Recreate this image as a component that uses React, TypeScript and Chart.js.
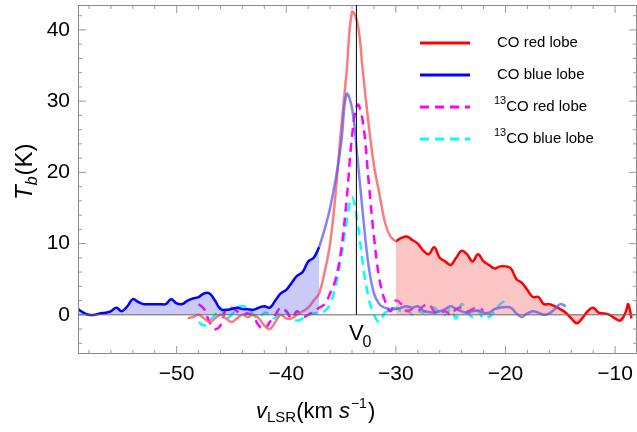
import React, { useEffect, useRef } from "react";
import { Chart, registerables } from "chart.js";
Chart.register(...registerables);

const blueV = [-59,-58.5,-58,-57.5,-57,-56.5,-56,-55.5,-55,-54.5,-54,-53.5,-53,-52.5,-52,-51.5,-51,-50.5,-50,-49.5,-49,-48.5,-48,-47.5,-47,-46.5,-46,-45.5,-45,-44.5,-44,-43.5,-43,-42.5,-42,-41.5,-41,-40.5,-40,-39.5,-39,-38.5,-38,-37.5,-37,-36.5,-36,-35.5,-35,-34.5,-34,-33.5,-33,-32.5,-32,-31.5,-31,-30.5,-30,-29.5,-29,-28.5,-28,-27.5,-27,-26.5,-26,-25.5,-25,-24.5,-24,-23.5,-23,-22.5,-22,-21.5,-21,-20.5,-20,-19.5,-19,-18.5,-18,-17.5,-17,-16.5,-16,-15.5,-15,-14.5];
const blueT = [0.8,0.3,0,0,0.2,0.3,0.5,1.0,0.5,1.2,2.2,1.8,1.5,1.5,1.5,1.5,1.5,2.2,1.6,1.5,2.0,2.3,2.5,3.0,3.0,2.0,0.8,0.7,0.8,1.0,0.8,0.8,0.7,1.0,1.2,1.0,2.0,3.0,3.5,4.5,5.5,6.0,7.5,8.0,9.5,12,15,19,24,31,29,22,14,7,3,1.5,1.0,0.8,0.8,1,1.2,1.0,1.2,0.6,0.4,0.3,0.5,0.8,1.2,0.8,0.5,0.3,0.5,0.6,0.3,0.3,0.8,1.0,1.1,1.0,0.2,-0.3,0.2,0.5,0.3,0,0.2,0.8,1.5,1.2];
const redV = [-49,-48.5,-48,-47.5,-47,-46.5,-46,-45.5,-45,-44.5,-44,-43.5,-43,-42.5,-42,-41.5,-41,-40.5,-40,-39.5,-39,-38.5,-38,-37.5,-37,-36.5,-36,-35.5,-35,-34.5,-34,-33.5,-33,-32.5,-32,-31.5,-31,-30.5,-30,-29.5,-29,-28.5,-28,-27.5,-27,-26.5,-26,-25.5,-25,-24.5,-24,-23.5,-23,-22.5,-22,-21.5,-21,-20.5,-20,-19.5,-19,-18.5,-18,-17.5,-17,-16.5,-16,-15.5,-15,-14.5,-14,-13.5,-13,-12.5,-12,-11.5,-11,-10.5,-10,-9.5,-9,-8.8,-8.5];
const redT = [-0.5,-0.3,0,-0.5,-1.0,-0.5,0,-0.5,-1.0,-0.5,0,-0.3,0,-0.5,-1.5,-2.0,-1.0,0,-0.5,-0.5,0,0.5,1,2,3,6,10,17,26,34,42.5,41,34,27,21,17,13,11,10.3,10.8,11,10.5,10,9,8.5,9.5,8,7.5,7,8,9,8.5,7.5,8.5,7.5,7,6.5,6.8,6.8,6.5,5,4.5,3.5,2.5,2.5,1.5,1.5,1.2,0.8,0.3,-0.5,-1.2,-0.5,0.5,1.0,0.3,0.2,0,-0.5,-0.8,0.5,1.5,-0.5];
const c13V = [-48,-47.5,-47,-46.5,-46,-45.5,-45,-44.5,-44,-43.5,-43,-42.5,-42,-41.5,-41,-40.5,-40,-39.5,-39,-38.5,-38,-37.5,-37,-36.5,-36,-35.5,-35,-34.5,-34,-33.5,-33,-32.5,-32,-31.5,-31,-30.5,-30,-29.5,-29,-28.5,-28,-27.5,-27,-26.5,-26,-25.5,-25,-24.5,-24,-23.5,-23,-22.5,-22,-21.5,-21,-20.5,-20];
const c13RedT = [1.5,0.8,-1.0,-2.0,-1.5,0.8,1.0,0.5,0,0.2,-0.3,-1.5,-2.0,-1.0,0,1.0,0.5,-0.5,0.5,-0.3,0,0.5,1.0,1.5,3,5,9,16,25,29.5,27,19,11,5,2,0.5,2,1.5,0.5,0.8,0.5,1.2,1.5,0.5,0.2,0.5,0,0.8,1.0,0.5,0.8,1.0,0.6,null,null,null,null];
const c13BlueT = [-1,-1.5,-0.8,0,1.0,-0.5,0,1.0,1.2,1.0,0,-0.5,0.3,0,-0.5,0.5,0.5,-0.5,-0.8,-0.5,0,0.2,0.3,0.5,1.5,4,8,13,16.5,13,7,2.5,0,-1,0.3,0.5,1.0,0.5,0.8,0,0.5,0.3,0.8,1.0,0.3,0,0.8,-0.5,1.5,0.5,-0.3,0.5,-0.5,-0.3,0.5,1.5,2.0];
const xTicks = [-50, -40, -30, -20, -10];
const yTicks = [0, 10, 20, 30, 40];
const V0 = -33.6;
const BLUE_SPLIT = -37;
const RED_SPLIT = -30;

const pts = (v: number[], t: (number | null)[], lo = -Infinity, hi = Infinity) =>
  v.map((x, i) => ({ x, y: t[i] })).filter(p => p.x >= lo && p.x <= hi && p.y !== null);

const FONT = "'Liberation Sans', Arial, sans-serif";

export default function App() {
  const ref = useRef<HTMLCanvasElement>(null);
  useEffect(() => {
    const deco = {
      id: "deco",
      afterDraw(chart: any) {
        const ctx = chart.ctx;
        const { left, right, top, bottom } = chart.chartArea;
        const xs = chart.scales.x, ys = chart.scales.y;
        ctx.save();
        ctx.strokeStyle = "#888";
        ctx.lineWidth = 1;
        ctx.strokeRect(left + 0.5, top + 0.5, right - left - 1, bottom - top - 1);
        ctx.strokeStyle = "#999";
        for (let v = -58; v <= -8; v += 2) {
          const px = xs.getPixelForValue(v);
          const L = v % 10 === 0 ? 8 : 4;
          ctx.beginPath();
          ctx.moveTo(px, bottom); ctx.lineTo(px, bottom - L);
          ctx.moveTo(px, top); ctx.lineTo(px, top + L);
          ctx.stroke();
        }
        for (let v = -4; v <= 42; v += 2) {
          const py = ys.getPixelForValue(v);
          const L = v % 10 === 0 ? 8 : 4;
          ctx.beginPath();
          ctx.moveTo(left, py); ctx.lineTo(left + L, py);
          ctx.moveTo(right, py); ctx.lineTo(right - L, py);
          ctx.stroke();
        }
        const y0 = ys.getPixelForValue(0);
        ctx.strokeStyle = "#666";
        ctx.beginPath(); ctx.moveTo(left, y0); ctx.lineTo(right, y0); ctx.stroke();
        const xv = xs.getPixelForValue(V0);
        ctx.strokeStyle = "#000";
        ctx.beginPath(); ctx.moveTo(xv, top); ctx.lineTo(xv, y0); ctx.stroke();
        ctx.fillStyle = "#000";
        ctx.font = `22px ${FONT}`;
        ctx.textAlign = "center"; ctx.textBaseline = "top";
        ctx.fillText("V", xv, y0 + 8);
        ctx.font = `16px ${FONT}`;
        ctx.textAlign = "left";
        ctx.fillText("0", xv + 6, y0 + 20);
        ctx.textBaseline = "alphabetic";
        let x = 256; const yb = 418;
        ctx.font = `italic 22px ${FONT}`; ctx.fillText("v", x, yb); x += ctx.measureText("v").width;
        ctx.font = `15px ${FONT}`; ctx.fillText("LSR", x, yb + 4); x += ctx.measureText("LSR").width;
        ctx.font = `22px ${FONT}`; ctx.fillText("(km ", x, yb); x += ctx.measureText("(km ").width;
        ctx.font = `italic 22px ${FONT}`; ctx.fillText("s", x, yb); x += ctx.measureText("s").width;
        ctx.font = `14px ${FONT}`; ctx.fillText("−1", x + 1, yb - 10); x += ctx.measureText("−1").width + 2;
        ctx.font = `22px ${FONT}`; ctx.fillText(")", x, yb);
        ctx.save();
        ctx.translate(32, 200); ctx.rotate(-Math.PI / 2);
        let yx = 0;
        ctx.font = `italic 24px ${FONT}`; ctx.fillText("T", yx, 0); yx += ctx.measureText("T").width;
        ctx.font = `italic 16px ${FONT}`; ctx.fillText("b", yx, 5); yx += ctx.measureText("b").width;
        ctx.font = `24px ${FONT}`; ctx.fillText("(K)", yx + 1, 0);
        ctx.restore();
        const items = [
          { c: "#ff0000", d: [], pre: "", t: "CO red lobe" },
          { c: "#0000ff", d: [], pre: "", t: "CO blue lobe" },
          { c: "#ff00ff", d: [9, 6], pre: "13", t: "CO red lobe" },
          { c: "#00ffff", d: [9, 6], pre: "13", t: "CO blue lobe" },
        ];
        items.forEach((it, i) => {
          const yy = 43 + i * 32;
          ctx.strokeStyle = it.c; ctx.lineWidth = 3; ctx.setLineDash(it.d);
          ctx.beginPath(); ctx.moveTo(420, yy); ctx.lineTo(470, yy); ctx.stroke();
          ctx.setLineDash([]);
          ctx.fillStyle = "#000"; ctx.textBaseline = "middle";
          let tx = 497;
          if (it.pre) {
            ctx.font = `11px ${FONT}`; ctx.fillText(it.pre, 494, yy - 6); tx = 494 + ctx.measureText(it.pre).width;
          }
          ctx.font = `15px ${FONT}`; ctx.fillText(it.t, tx, yy);
        });
        ctx.restore();
      },
    };
    const line = (data: any, color: string, extra: any = {}) => ({
      data, borderColor: color, borderWidth: 2.5, pointRadius: 0, tension: 0.4, fill: false, ...extra,
    });
    const chart = new Chart(ref.current!, {
      type: "line",
      data: {
        datasets: [
          line(pts(blueV, blueT, -100, BLUE_SPLIT), "#0000ff", { fill: "origin", backgroundColor: "rgba(80,80,230,0.3)" }),
          line(pts(blueV, blueT, BLUE_SPLIT, 100), "rgba(90,90,240,0.75)"),
          line(pts(redV, redT, -100, RED_SPLIT), "rgba(250,110,110,0.9)"),
          line(pts(redV, redT, RED_SPLIT, 100), "#ff0000", { fill: "origin", backgroundColor: "rgba(245,110,110,0.4)" }),
          line(pts(c13V, c13RedT), "#ff00ff", { borderDash: [9, 6] }),
          line(pts(c13V, c13BlueT), "#00ffff", { borderDash: [9, 6] }),
        ] as any,
      },
      options: {
        animation: false,
        responsive: false,
        layout: { padding: { top: 5, right: 0 } },
        plugins: { legend: { display: false }, tooltip: { enabled: false } },
        scales: {
          x: {
            type: "linear", min: -59, max: -8,
            afterFit: (s: any) => { s.height = 78; s.paddingLeft = 0; s.paddingRight = 0; },
            afterBuildTicks: (s: any) => { s.ticks = xTicks.map(v => ({ value: v })); },
            grid: { display: false, drawTicks: false },
            border: { display: false },
            ticks: { font: { size: 21, family: FONT }, color: "#000", padding: 8, callback: (v: any) => String(v).replace("-", "−") },
          },
          y: {
            type: "linear", min: -5.5, max: 43.5,
            afterFit: (s: any) => { s.width = 78; s.paddingTop = 0; s.paddingBottom = 0; },
            afterBuildTicks: (s: any) => { s.ticks = yTicks.map(v => ({ value: v })); },
            grid: { display: false, drawTicks: false },
            border: { display: false },
            ticks: { font: { size: 21, family: FONT }, color: "#000", padding: 8 },
          },
        },
      },
      plugins: [deco],
    } as any);
    return () => chart.destroy();
  }, []);
  return (
    <div style={{ position: "fixed", left: 0, top: 0, width: 637, height: 432, background: "#fff" }}>
      <canvas ref={ref} width={637} height={432} style={{ width: 637, height: 432 }} />
    </div>
  );
}
